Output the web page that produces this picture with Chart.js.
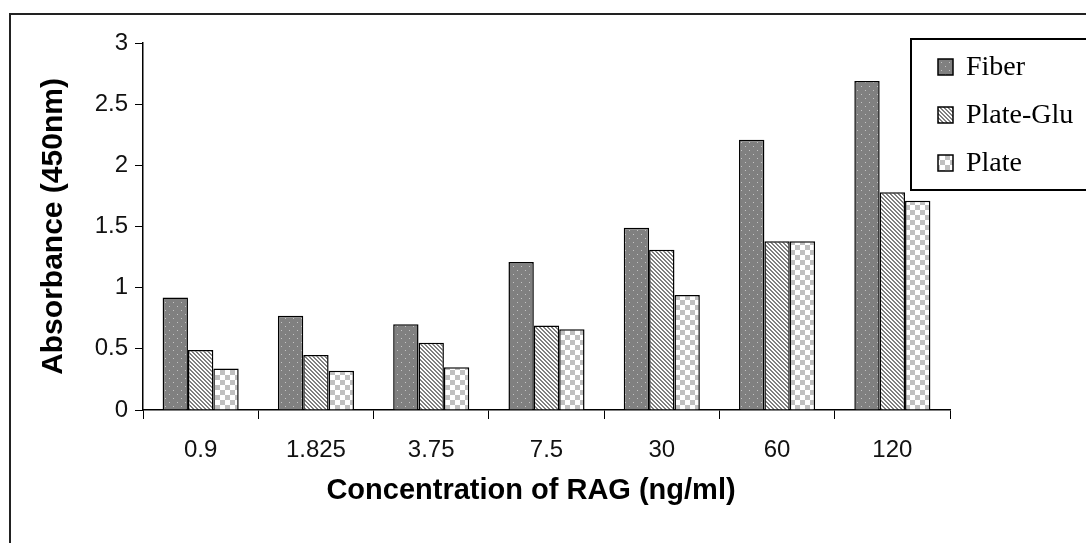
<!DOCTYPE html>
<html>
<head>
<meta charset="utf-8">
<script src="https://cdn.jsdelivr.net/npm/chart.js@4/dist/chart.umd.min.js"></script>
<style>
  html, body { margin: 0; padding: 0; background: #fff; }
  #wrap { width: 1086px; height: 543px; }
</style>
</head>
<body>
<div id="wrap"><canvas id="chart"></canvas></div>
<script>
const concentrations = ['0.9', '1.825', '3.75', '7.5', '30', '60', '120'];
const fiber = [0.92, 0.77, 0.70, 1.21, 1.49, 2.21, 2.69];
const plateGlu = [0.49, 0.45, 0.55, 0.69, 1.31, 1.38, 1.78];
const plate = [0.34, 0.32, 0.35, 0.66, 0.94, 1.38, 1.71];
const xTitle = 'Concentration of RAG (ng/ml)';
const yTitle = 'Absorbance (450nm)';

function makePattern(size, paint) {
  const c = document.createElement('canvas');
  c.width = size;
  c.height = size;
  const g = c.getContext('2d');
  paint(g);
  return g.createPattern(c, 'repeat');
}

// dark grey with light specks
const dotted = makePattern(8, (g) => {
  g.fillStyle = '#808080';
  g.fillRect(0, 0, 8, 8);
  g.fillStyle = '#c4c4c4';
  g.fillRect(1, 2, 1, 1);
  g.fillRect(5, 6, 1, 1);
});

// diagonal stripes going down to the right
const striped = makePattern(4, (g) => {
  g.fillStyle = '#fff';
  g.fillRect(0, 0, 4, 4);
  g.fillStyle = '#808080';
  for (let i = 0; i < 4; i++) {
    g.fillRect(i, i, 1, 1);
    g.fillRect((i + 1) % 4, i, 1, 1);
  }
});

// light grey checkerboard
const checked = makePattern(10, (g) => {
  g.fillStyle = '#fff';
  g.fillRect(0, 0, 10, 10);
  g.fillStyle = '#c0c0c0';
  g.fillRect(0, 0, 5, 5);
  g.fillRect(5, 5, 5, 5);
});

const framePlugin = {
  id: 'frame',
  beforeDraw(chart) {
    const ctx = chart.ctx;
    ctx.save();
    ctx.strokeStyle = '#222';
    ctx.lineWidth = 2;
    ctx.beginPath();
    ctx.moveTo(10, 600);
    ctx.lineTo(10, 14);
    ctx.lineTo(1100, 14);
    ctx.stroke();
    ctx.restore();
  }
};

// x title sits a bit left of the plot centre in the original, so draw it here
const xTitlePlugin = {
  id: 'xTitle',
  afterDraw(chart) {
    const ctx = chart.ctx;
    ctx.save();
    ctx.fillStyle = '#000';
    ctx.font = 'bold 29px "Liberation Sans"';
    ctx.textAlign = 'center';
    ctx.textBaseline = 'middle';
    ctx.fillText(xTitle, 531, 491);
    ctx.restore();
  }
};

const boxLegend = {
  id: 'boxLegend',
  afterDraw(chart) {
    const ctx = chart.ctx;
    ctx.save();
    ctx.fillStyle = '#fff';
    ctx.fillRect(911, 39, 200, 151);
    ctx.strokeStyle = '#000';
    ctx.lineWidth = 2;
    ctx.strokeRect(911, 39, 200, 151);
    ctx.font = '28px "Liberation Serif"';
    ctx.textBaseline = 'middle';
    chart.data.datasets.forEach((ds, i) => {
      const y = 67 + i * 48;
      ctx.fillStyle = ds.backgroundColor;
      ctx.fillRect(938, y - 8, 15, 16);
      ctx.strokeStyle = '#000';
      ctx.lineWidth = 1.5;
      ctx.strokeRect(938, y - 8, 15, 16);
      ctx.fillStyle = '#000';
      ctx.fillText(ds.label, 966, y + 1);
    });
    ctx.restore();
  }
};

const ctx = document.getElementById('chart');
new Chart(ctx, {
  type: 'bar',
  data: {
    labels: concentrations,
    datasets: [
      { label: 'Fiber', data: fiber, backgroundColor: dotted },
      { label: 'Plate-Glu', data: plateGlu, backgroundColor: striped },
      { label: 'Plate', data: plate, backgroundColor: checked }
    ]
  },
  options: {
    responsive: true,
    maintainAspectRatio: false,
    animation: false,
    layout: { padding: { left: 36, top: 43, right: 136, bottom: 37 } },
    datasets: {
      bar: {
        borderColor: '#000',
        borderWidth: 1.5,
        categoryPercentage: 0.66,
        barPercentage: 1
      }
    },
    plugins: {
      legend: { display: false },
      tooltip: { enabled: false }
    },
    scales: {
      x: {
        grid: { drawOnChartArea: false, tickLength: 9, color: '#000', offset: true },
        border: { color: '#000', width: 1.5 },
        ticks: { color: '#111', padding: 17, font: { family: 'Liberation Sans', size: 24 } },
        afterFit(scale) { scale.height = 96; }
      },
      y: {
        min: 0,
        max: 3,
        grid: { drawOnChartArea: false, tickLength: 8, color: '#000' },
        border: { color: '#000', width: 1.5 },
        ticks: {
          stepSize: 0.5,
          color: '#111',
          padding: 7,
          font: { family: 'Liberation Sans', size: 24 },
          callback: (v) => String(+v.toFixed(2))
        },
        title: {
          display: true,
          text: yTitle,
          color: '#000',
          padding: 0,
          font: { family: 'Liberation Sans', size: 30, weight: 'bold' }
        },
        afterFit(scale) { scale.width = 107; }
      }
    }
  },
  plugins: [framePlugin, xTitlePlugin, boxLegend]
});
</script>
</body>
</html>
